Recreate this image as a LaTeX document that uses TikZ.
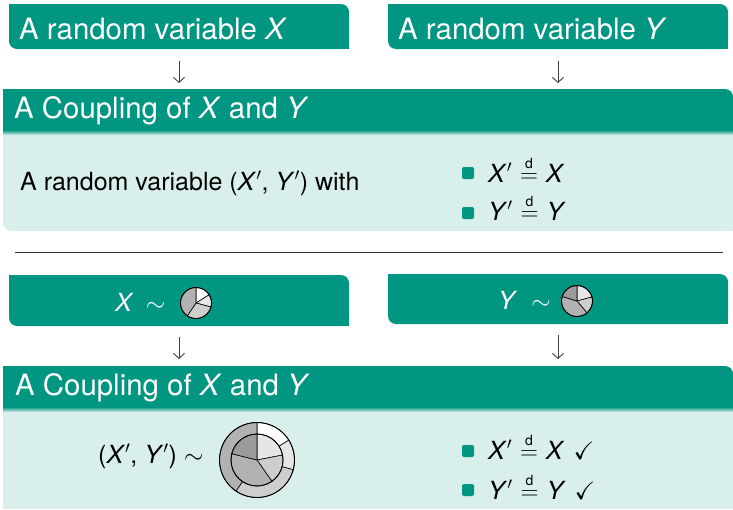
\documentclass[tikz,border=0pt]{standalone}
\usepackage{fontspec}
\setmainfont{TeX Gyre Heros}
\usepackage{amssymb}
\usetikzlibrary{arrows.meta}

\definecolor{kit}{RGB}{0,150,130}
\definecolor{kitlight}{RGB}{217,239,236}
\definecolor{pieA}{RGB}{255,255,255}
\definecolor{pieB}{RGB}{230,230,230}
\definecolor{pieC}{RGB}{206,206,206}
\definecolor{pieD}{RGB}{178,178,178}
\definecolor{pieE}{RGB}{155,155,155}

\newcommand\bigsz{\fontsize{29.4}{35}\selectfont}
\newcommand\bodysz{\fontsize{25}{30}\selectfont}
\newcommand\rvX{\textit{X}}
\newcommand\rvY{\textit{Y}}
\newcommand\prm{\ensuremath{{}^{\prime}}}
% "equal in distribution": a small d set over the equals sign
\newcommand\eqd{\ensuremath{\stackrel{\hbox{\fontsize{14}{14}\selectfont d}}{=}}}
% one filled wedge of a pie: colour, centre, start angle, end angle, radius
\newcommand\wedgefill[5]{%
  \filldraw[fill=#1, draw=black, line width=0.6pt]
    (#2) -- ++(#3:#5) arc[start angle=#3, end angle=#4, radius=#5] -- cycle;}

\tikzset{
  box/.style={fill=kit, rounded corners=8pt, inner sep=0pt, outer sep=0pt},
  panel/.style={fill=kitlight, rounded corners=8pt, inner sep=0pt, outer sep=0pt},
  txt/.style={inner sep=0pt, anchor=base west},
  wtxt/.style={txt, text=white},
  bul/.style={fill=kit, rounded corners=2pt, minimum size=12pt, inner sep=0pt},
  arr/.style={draw=black!75, line width=0.9pt, -{Straight Barb[length=5pt,width=11pt]}},
  sep/.style={draw=black!80, line width=1pt},
}

\begin{document}
\begin{tikzpicture}[x=1pt,y=1pt]
\useasboundingbox (0,0) rectangle (733,-509);

% ---------- first part: plain random variables ----------
\node[box, minimum width=340pt, minimum height=45pt] (rvx) at (179,-26.5) {};
\fill[kit] (rvx.north west) rectangle ++(12pt,-12pt);
\fill[kit] (rvx.south east) rectangle ++(-12pt,12pt);
\node[box, minimum width=340pt, minimum height=45pt] (rvy) at (558,-26.5) {};
\fill[kit] (rvy.north west) rectangle ++(12pt,-12pt);
\fill[kit] (rvy.south east) rectangle ++(-12pt,12pt);
\node[wtxt] (tx) at (19,-39) {\bigsz A random variable \rvX};
\node[wtxt] (ty) at (398,-39) {\bigsz A random variable \rvY};

% coupling block, header and body
\node[panel, minimum width=730pt, minimum height=101pt] (body1) at (368,-180.5) {};
\fill[kitlight] (body1.north west) rectangle ++(12pt,-12pt);
\fill[kitlight] (body1.north east) rectangle ++(-12pt,-12pt);
\fill[kitlight] (body1.south east) rectangle ++(-12pt,12pt);
\node[box, minimum width=730pt, minimum height=41pt] (cpl1) at (368,-109.5) {};
\fill[kit] (cpl1.north west) rectangle ++(12pt,-12pt);
\fill[kit] (cpl1.south west) rectangle ++(12pt,12pt);
\fill[kit] (cpl1.south east) rectangle ++(-12pt,12pt);
\shade[top color=kit, bottom color=kitlight] (cpl1.south west) rectangle ([yshift=-5pt]cpl1.south east);
\node[wtxt] (h1) at (14,-118) {\bigsz A Coupling of \rvX\ and \rvY};

\draw[arr, shorten <=12pt, shorten >=6pt] (rvx.south) -- (rvx.south |- cpl1.north);
\draw[arr, shorten <=12pt, shorten >=6pt] (rvy.south) -- (rvy.south |- cpl1.north);

\node[txt] (b1) at (20,-190) {\bodysz A random variable (\rvX\prm, \rvY\prm) with};
\node[bul] (u1) at (468,-173) {};
\node[bul] (u2) at (468,-213) {};
\node[txt] (e1) at (488,-182) {\bodysz\rvX\prm\hspace{8pt}\eqd\hspace{8pt}\rvX};
\node[txt] (e2) at (488,-220) {\bodysz\rvY\prm\hspace{8pt}\eqd\hspace{8pt}\rvY};

% separator
\draw[sep] (15,-252) -- (723,-252);

% ---------- second part: distributions as pies ----------
\node[box, minimum width=340pt, minimum height=51pt] (dx) at (179,-300.5) {};
\fill[kit] (dx.north west) rectangle ++(12pt,-12pt);
\fill[kit] (dx.south east) rectangle ++(-12pt,12pt);
\node[box, minimum width=340pt, minimum height=50pt] (dy) at (558,-299) {};
\fill[kit] (dy.north west) rectangle ++(12pt,-12pt);
\fill[kit] (dy.south east) rectangle ++(-12pt,12pt);
\node[wtxt] (sx) at (115,-311) {\bodysz\rvX\hspace{12pt}\ensuremath{\sim}};
\node[wtxt] (sy) at (498,-309) {\bodysz\rvY\hspace{14pt}\ensuremath{\sim}};

% pie of X
\coordinate (pxc) at (196,-303);
\wedgefill{pieA}{pxc}{90}{32}{15.5pt}
\wedgefill{pieB}{pxc}{32}{-15}{15.5pt}
\wedgefill{pieC}{pxc}{-15}{-124}{15.5pt}
\wedgefill{pieD}{pxc}{-124}{-270}{15.5pt}
\draw[line width=0.9pt] (pxc) circle[radius=15.5pt];

% pie of Y
\coordinate (pyc) at (577,-301);
\wedgefill{pieB}{pyc}{90}{15}{15.5pt}
\wedgefill{pieC}{pyc}{15}{-50}{15.5pt}
\wedgefill{pieD}{pyc}{-50}{-197}{15.5pt}
\wedgefill{pieE}{pyc}{163}{90}{15.5pt}
\draw[line width=0.9pt] (pyc) circle[radius=15.5pt];

% coupling block, header and body
\fill[kitlight] (3,-407) rectangle (733,-509);
\node[box, minimum width=730pt, minimum height=41pt] (cpl2) at (368,-386.5) {};
\fill[kit] (cpl2.north west) rectangle ++(12pt,-12pt);
\fill[kit] (cpl2.south west) rectangle ++(12pt,12pt);
\fill[kit] (cpl2.south east) rectangle ++(-12pt,12pt);
\shade[top color=kit, bottom color=kitlight] (cpl2.south west) rectangle ([yshift=-5pt]cpl2.south east);
\node[wtxt] (h2) at (15,-395) {\bigsz A Coupling of \rvX\ and \rvY};

\draw[arr, shorten <=11pt, shorten >=7pt] (dx.south) -- (dx.south |- cpl2.north);
\draw[arr, shorten <=11pt, shorten >=7pt] (dy.south) -- (dy.south |- cpl2.north);

\node[txt] (b2) at (98,-463) {\bodysz(\rvX\prm, \rvY\prm)\hspace{7pt}\ensuremath{\sim}};

% joint pie: X in the outer ring, Y in the inner disc
\coordinate (pjc) at (257,-460);
\wedgefill{pieA}{pjc}{90}{32}{37.5pt}
\wedgefill{pieB}{pjc}{32}{-15}{37.5pt}
\wedgefill{pieC}{pjc}{-15}{-124}{37.5pt}
\wedgefill{pieD}{pjc}{-124}{-270}{37.5pt}
\fill[white] (pjc) circle[radius=26pt];
\wedgefill{pieB}{pjc}{90}{11}{26pt}
\wedgefill{pieC}{pjc}{11}{-55}{26pt}
\wedgefill{pieD}{pjc}{-55}{-194}{26pt}
\wedgefill{pieE}{pjc}{166}{90}{26pt}
\draw[line width=0.9pt] (pjc) circle[radius=26pt];
\draw[line width=0.9pt] (pjc) circle[radius=37.5pt];

\node[bul] (u3) at (468,-451) {};
\node[bul] (u4) at (468,-490) {};
\node[txt] (e3) at (488,-459) {\bodysz\rvX\prm\hspace{8pt}\eqd\hspace{8pt}\rvX\hspace{9pt}\ensuremath{\checkmark}};
\node[txt] (e4) at (488,-499) {\bodysz\rvY\prm\hspace{8pt}\eqd\hspace{8pt}\rvY\hspace{9pt}\ensuremath{\checkmark}};
\end{tikzpicture}
\end{document}
